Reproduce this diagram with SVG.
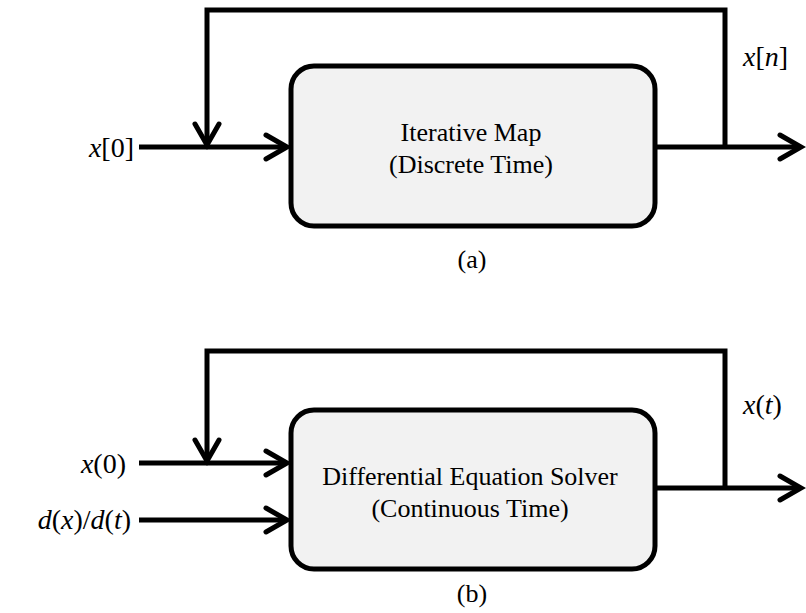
<svg xmlns="http://www.w3.org/2000/svg" width="806" height="613" viewBox="0 0 806 613">
  <style>
    .wire { fill: none; stroke: #000; stroke-width: 5; stroke-linejoin: miter; }
    .arrow { marker-end: url(#chev); }
    .block { fill: #f2f2f2; stroke: #000; stroke-width: 5; }
    .label { font-family: "Liberation Serif", "Times New Roman", serif; font-size: 26px; fill: #000; text-anchor: middle; }
    .math { font-family: "Liberation Serif", "Times New Roman", serif; font-size: 28px; fill: #000; }
    .var { font-style: italic; }
  </style>
  <defs>
    <marker id="chev" markerUnits="userSpaceOnUse" markerWidth="40" markerHeight="40" refX="0" refY="0" orient="auto" overflow="visible" viewBox="-30 -20 40 40">
      <path d="M-21,-12 L0,0 L-21,12" fill="none" stroke="#000" stroke-width="5" stroke-linecap="round" stroke-linejoin="miter"/>
    </marker>
  </defs>

  <rect width="806" height="613" fill="#fff"/>

  <!-- (a) discrete-time loop -->
  <g id="connectors-a">
    <path class="wire arrow" d="M725,147 V10 H207 V145"/>
    <path class="wire arrow" d="M139,147 H287"/>
    <path class="wire arrow" d="M655,147 H801"/>
  </g>
  <g id="iterative-map">
    <rect class="block" x="291" y="66" width="364" height="160" rx="23" ry="23"/>
    <text class="label" x="471" y="141">Iterative Map</text>
    <text class="label" x="471" y="173">(Discrete Time)</text>
  </g>
  <g id="label-x0">
    <text class="math" x="134" y="157" text-anchor="end"><tspan class="var">x</tspan>[0]</text>
  </g>
  <g id="label-xn">
    <text class="math" x="743" y="66"><tspan class="var">x</tspan>[<tspan class="var">n</tspan>]</text>
  </g>
  <text class="label" x="472" y="268">(a)</text>

  <!-- (b) continuous-time loop -->
  <g id="connectors-b">
    <path class="wire arrow" d="M725,488 V351 H207 V461"/>
    <path class="wire arrow" d="M139,463 H287"/>
    <path class="wire arrow" d="M139,520 H287"/>
    <path class="wire arrow" d="M655,488 H801"/>
  </g>
  <g id="ode-solver">
    <rect class="block" x="291" y="410" width="364" height="159" rx="23" ry="23"/>
    <text class="label" x="470" y="485">Differential Equation Solver</text>
    <text class="label" x="470" y="517">(Continuous Time)</text>
  </g>
  <g id="label-x0-cont">
    <text class="math" x="126" y="473" text-anchor="end"><tspan class="var">x</tspan>(0)</text>
  </g>
  <g id="label-dxdt">
    <text class="math" x="131" y="529" text-anchor="end"><tspan class="var">d</tspan>(<tspan class="var">x</tspan>)/<tspan class="var">d</tspan>(<tspan class="var">t</tspan>)</text>
  </g>
  <g id="label-xt">
    <text class="math" x="743" y="414"><tspan class="var">x</tspan>(<tspan class="var">t</tspan>)</text>
  </g>
  <text class="label" x="472" y="602">(b)</text>
</svg>
